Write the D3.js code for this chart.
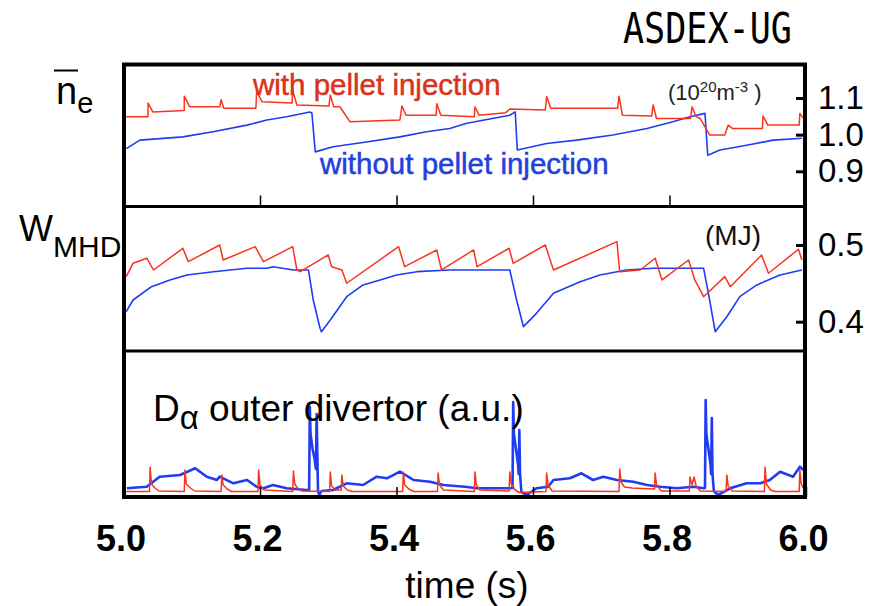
<!DOCTYPE html>
<html lang="en">
    <head>
        <meta charset="utf-8">
        <title>ASDEX-UG pellet injection</title>
        <script type="text/javascript" src="https://cdn.jsdelivr.net/npm/d3@7"></script>
        <style>
            body { margin: 0; background: #fff; }
            svg { display: block; font-family: "Liberation Sans", Arial, sans-serif; }
        </style>
    </head>
    <body>
        <script type="text/javascript">
            // tick values
            var xTicks = [5.0, 5.2, 5.4, 5.6, 5.8, 6.0];
            var neTicks = [0.9, 1.0, 1.1];
            var wTicks = [0.4, 0.5];

            // line averaged density (10^20 m^-3), [time, value]
            var neWith = [
                [5.004,1.049],[5.036,1.049],[5.036,1.086],[5.043,1.062],[5.089,1.066],[5.089,1.105],[5.097,1.076],
                [5.141,1.076],[5.143,1.095],[5.147,1.072],[5.194,1.072],[5.195,1.117],[5.203,1.090],[5.247,1.086],
                [5.248,1.120],[5.254,1.081],[5.301,1.078],[5.303,1.108],[5.308,1.076],[5.317,1.076],[5.332,1.035],
                [5.405,1.040],[5.408,1.078],[5.414,1.053],[5.458,1.053],[5.459,1.084],[5.465,1.053],[5.514,1.049],
                [5.515,1.076],[5.521,1.053],[5.560,1.060],[5.566,1.070],[5.618,1.067],[5.620,1.104],[5.626,1.072],
                [5.724,1.072],[5.726,1.105],[5.731,1.053],[5.774,1.051],[5.776,1.081],[5.781,1.044],[5.831,1.044],
                [5.833,1.076],[5.839,1.049],[5.845,1.044],[5.859,0.999],[5.881,0.999],[5.886,1.026],[5.892,1.017],
                [5.936,1.017],[5.937,1.051],[5.944,1.026],[5.990,1.026],[5.991,1.058],[5.996,1.045]
            ];
            var neWithout = [
                [5.004,0.962],[5.024,0.985],[5.087,0.994],[5.131,1.008],[5.181,1.026],[5.210,1.040],[5.239,1.049],
                [5.273,1.062],[5.276,1.059],[5.281,0.953],[5.307,0.967],[5.356,0.980],[5.405,0.994],[5.444,1.008],
                [5.478,1.017],[5.503,1.031],[5.566,1.053],[5.574,1.062],[5.577,0.958],[5.620,0.976],[5.664,0.985],
                [5.717,0.999],[5.767,1.017],[5.805,1.035],[5.830,1.049],[5.852,1.058],[5.856,0.944],[5.874,0.958],
                [5.913,0.971],[5.952,0.985],[5.994,0.990]
            ];

            // stored energy (MJ)
            var wWith = [
                [5.004,0.4587],[5.014,0.4761],[5.034,0.4827],[5.044,0.4674],[5.087,0.4957],[5.095,0.4782],
                [5.141,0.5000],[5.146,0.4804],[5.193,0.4978],[5.205,0.4782],[5.248,0.4978],[5.254,0.4674],
                [5.259,0.4652],[5.300,0.4870],[5.305,0.4717],[5.320,0.4674],[5.327,0.4501],[5.403,0.4978],
                [5.412,0.4717],[5.459,0.4935],[5.466,0.4674],[5.513,0.4935],[5.518,0.4717],[5.565,0.4957],
                [5.571,0.4761],[5.618,0.5000],[5.630,0.4674],[5.723,0.5043],[5.727,0.4652],[5.757,0.4674],
                [5.779,0.4827],[5.789,0.4544],[5.828,0.4804],[5.837,0.4544],[5.850,0.4326],[5.881,0.4587],
                [5.889,0.4456],[5.935,0.4870],[5.945,0.4631],[5.989,0.4944],[5.994,0.4804]
            ];
            var wWithout = [
                [5.004,0.4130],[5.014,0.4283],[5.041,0.4456],[5.068,0.4544],[5.093,0.4609],[5.132,0.4652],
                [5.181,0.4696],[5.210,0.4696],[5.219,0.4717],[5.249,0.4674],[5.271,0.4674],[5.278,0.4283],
                [5.288,0.3914],[5.290,0.3870],[5.303,0.4022],[5.327,0.4326],[5.351,0.4479],[5.376,0.4544],
                [5.400,0.4609],[5.430,0.4652],[5.478,0.4674],[5.566,0.4674],[5.576,0.4283],[5.586,0.3935],
                [5.605,0.4109],[5.630,0.4370],[5.669,0.4522],[5.698,0.4609],[5.737,0.4674],[5.776,0.4696],
                [5.850,0.4696],[5.857,0.4370],[5.867,0.3870],[5.884,0.4065],[5.903,0.4326],[5.928,0.4479],
                [5.962,0.4609],[5.994,0.4674]
            ];

            // D-alpha outer divertor (a.u.)
            var daWith = [
                [5.004,0.25],[5.038,0.25],[5.039,2.7],[5.041,1.0],[5.046,0.6],[5.052,0.3],
                [5.089,0.25],[5.090,2.4],[5.092,1.0],[5.098,0.6],[5.104,0.3],
                [5.143,0.25],[5.144,1.9],[5.146,0.9],[5.152,0.5],[5.158,0.25],
                [5.197,0.25],[5.198,2.4],[5.200,0.9],[5.206,0.4],
                [5.248,0.25],[5.249,2.3],[5.251,1.0],[5.256,0.5],[5.262,0.3],
                [5.302,0.25],[5.303,2.2],[5.305,0.8],[5.310,0.4],
                [5.319,0.4],[5.320,1.9],[5.322,0.8],[5.328,0.4],[5.335,0.25],
                [5.409,0.25],[5.410,2.2],[5.412,0.9],[5.418,0.5],[5.425,0.25],
                [5.460,0.25],[5.461,2.1],[5.463,0.9],[5.469,0.4],
                [5.514,0.25],[5.515,2.2],[5.517,0.9],[5.522,0.4],
                [5.565,0.3],[5.566,2.2],[5.568,1.0],[5.574,0.4],[5.580,0.15],
                [5.619,0.25],[5.620,2.1],[5.622,0.9],[5.628,0.3],
                [5.726,0.25],[5.727,2.5],[5.729,1.2],[5.734,0.7],[5.745,0.6],[5.760,0.55],[5.778,0.5],
                [5.779,2.1],[5.781,0.9],[5.788,0.3],
                [5.829,0.3],[5.830,1.7],[5.833,0.9],[5.836,1.7],[5.839,0.8],[5.845,0.3],
                [5.883,0.25],[5.884,1.9],[5.886,0.8],[5.892,0.3],
                [5.939,0.25],[5.940,2.7],[5.942,1.0],[5.948,0.4],[5.955,0.25],
                [5.990,0.25],[5.991,2.4],[5.993,1.0],[5.996,0.6]
            ];
            var daWithout = [
                [5.005,0.57],[5.034,0.73],[5.053,1.73],[5.083,1.9],[5.105,2.57],[5.122,1.73],[5.137,1.4],
                [5.141,1.73],[5.161,1.07],[5.181,1.4],[5.195,0.73],[5.205,0.57],[5.219,0.9],[5.239,0.57],
                [5.268,0.4],[5.272,0.4],[5.273,8.7],[5.274,6.0],[5.277,4.5],[5.280,3.5],[5.282,2.5],[5.283,8.0],
                [5.284,4.0],[5.285,0.3],[5.287,-0.1],[5.290,0.3],[5.307,0.4],[5.327,1.07],[5.351,0.9],
                [5.371,1.73],[5.386,1.57],[5.405,2.23],[5.425,1.4],[5.449,1.23],[5.469,0.9],[5.500,0.73],
                [5.518,0.57],[5.566,0.57],[5.570,0.6],[5.571,9.2],[5.572,6.0],[5.575,4.5],[5.578,3.0],
                [5.579,2.0],[5.580,6.4],[5.581,2.0],[5.583,0.2],[5.591,-0.1],[5.605,0.57],[5.622,0.73],
                [5.630,1.4],[5.654,1.57],[5.671,2.07],[5.688,1.4],[5.703,1.73],[5.723,1.4],[5.747,1.23],
                [5.767,0.9],[5.786,0.73],[5.811,0.57],[5.835,0.73],[5.850,0.57],[5.852,0.6],[5.853,9.4],
                [5.854,6.0],[5.857,4.5],[5.860,3.0],[5.861,2.0],[5.862,7.6],[5.863,2.0],[5.865,0.3],
                [5.871,-0.1],[5.889,0.57],[5.913,1.07],[5.933,1.07],[5.947,1.4],[5.962,2.23],[5.981,1.73],
                [5.991,2.73],[5.996,2.4]
            ];

            var w = 873;
            var h = 606;
            var redLine = "#f8341c";
            var blueLine = "#1f3cf2";

            // panel edges (pixels)
            var x0 = 124, x1 = 805;
            var yA = 64.5, yB = 206.5, yC = 351, yD = 497;

            var xScale = d3.scaleLinear().domain([5.0, 6.0]).range([123.5, 806]);
            var yTop = d3.scaleLinear().domain([0.804, 1.190]).range([yB, 65]);
            var yMid = d3.scaleLinear().domain([0.3618, 0.5495]).range([yC, 207]);
            var yBot = d3.scaleLinear().domain([-0.4, 14.3]).range([498, yC]);

            var svg = d3.select("body")
                        .append("svg")
                        .attr("width", w)
                        .attr("height", h);

            // clip each panel so the traces stay inside
            var defs = svg.append("defs");
            [["clipTop", yA, yB], ["clipMid", yB, yC], ["clipBot", yC, yD]].forEach(function(c){
                defs.append("clipPath").attr("id", c[0])
                    .append("rect")
                    .attr("x", x0).attr("y", c[1])
                    .attr("width", x1 - x0).attr("height", c[2] - c[1]);
            });

            function drawTrace(data, yScale, clip, color, width){
                var line = d3.line()
                    .x(function(d){ return xScale(d[0]); })
                    .y(function(d){ return yScale(d[1]); });
                svg.append("path")
                    .datum(data)
                    .attr("clip-path", "url(#" + clip + ")")
                    .attr("d", line)
                    .attr("fill", "none")
                    .attr("stroke", color)
                    .attr("stroke-width", width)
                    .attr("stroke-linejoin", "round");
            }

            drawTrace(neWithout, yTop, "clipTop", blueLine, 1.6);
            drawTrace(neWith, yTop, "clipTop", redLine, 1.5);
            drawTrace(wWithout, yMid, "clipMid", blueLine, 1.6);
            drawTrace(wWith, yMid, "clipMid", redLine, 1.5);
            drawTrace(daWithout, yBot, "clipBot", blueLine, 2.6);
            drawTrace(daWith, yBot, "clipBot", redLine, 1.5);

            // x ticks on top panel (no labels)
            var gxTop = svg.append("g")
                .attr("transform", "translate(0," + yB + ")")
                .call(d3.axisBottom(xScale).tickValues([5.2, 5.4, 5.6, 5.8]).tickSize(-11).tickFormat(""));
            gxTop.select(".domain").remove();
            gxTop.selectAll("line").attr("stroke-width", 1.5);

            // x axis at the bottom
            var gx = svg.append("g")
                .attr("transform", "translate(0," + yD + ")")
                .call(d3.axisBottom(xScale).tickValues(xTicks).tickSize(-10).tickPadding(28)
                        .tickFormat(d3.format(".1f")));
            gx.select(".domain").remove();
            gx.selectAll("line").attr("stroke-width", 1.5);
            gx.selectAll("text")
                .attr("font-family", "Liberation Sans, Arial, sans-serif")
                .attr("font-size", "36px")
                .attr("font-weight", "bold")
                .attr("fill", "#000")
                .attr("dx", "-3");

            // right y axes
            function rightAxis(scale, ticks){
                var g = svg.append("g")
                    .attr("transform", "translate(" + x1 + ",0)")
                    .call(d3.axisRight(scale).tickValues(ticks).tickSize(-9).tickPadding(13)
                            .tickFormat(d3.format(".1f")));
                g.select(".domain").remove();
                g.selectAll("line").attr("stroke-width", 3);
                g.selectAll("text")
                    .attr("font-family", "Liberation Sans, Arial, sans-serif")
                    .attr("font-size", "33px")
                    .attr("fill", "#000");
            }
            rightAxis(yTop, neTicks);
            rightAxis(yMid, wTicks);

            // frame
            svg.append("rect")
                .attr("x", x0).attr("y", yA)
                .attr("width", x1 - x0).attr("height", yD - yA)
                .attr("fill", "none").attr("stroke", "#000").attr("stroke-width", 4);
            [yB, yC].forEach(function(y){
                svg.append("line")
                    .attr("x1", x0).attr("x2", x1).attr("y1", y).attr("y2", y)
                    .attr("stroke", "#000").attr("stroke-width", 3);
            });

            // title
            svg.append("text")
                .attr("x", 623).attr("y", 43)
                .attr("font-family", "DejaVu Sans Mono, monospace")
                .attr("font-size", "42px")
                .attr("textLength", 169)
                .attr("lengthAdjust", "spacingAndGlyphs")
                .text("ASDEX-UG");

            // left labels
            svg.append("line")
                .attr("x1", 54).attr("x2", 78).attr("y1", 70.5).attr("y2", 70.5)
                .attr("stroke", "#000").attr("stroke-width", 2);
            var ne = svg.append("text").attr("x", 56).attr("y", 104).attr("font-size", "38px");
            ne.append("tspan").text("n");
            ne.append("tspan").attr("dy", 9).attr("font-size", "29px").text("e");

            var wm = svg.append("text").attr("x", 19).attr("y", 241).attr("font-size", "36px");
            wm.append("tspan").text("W");
            wm.append("tspan").attr("dy", 16).attr("font-size", "30px").text("MHD");

            var da = svg.append("text").attr("x", 153).attr("y", 421).attr("font-size", "37px");
            da.append("tspan").text("D");
            da.append("tspan").attr("dy", 8).attr("font-size", "33px").text("α");
            da.append("tspan").attr("dy", -8).text(" outer divertor (a.u.)");

            // units
            var un = svg.append("text").attr("x", 668).attr("y", 100).attr("font-size", "22px").attr("fill", "#222");
            un.append("tspan").text("(10");
            un.append("tspan").attr("dy", -8).attr("font-size", "15px").text("20");
            un.append("tspan").attr("dy", 8).text("m");
            un.append("tspan").attr("dy", -8).attr("font-size", "15px").text("-3");
            un.append("tspan").attr("dy", 8).text(" )");

            svg.append("text").attr("x", 705).attr("y", 245)
                .attr("font-size", "28px").attr("fill", "#111").text("(MJ)");

            // series labels
            svg.append("text").attr("x", 253).attr("y", 95)
                .attr("font-size", "29.5px").attr("fill", "#d8331c")
                .attr("stroke", "#d8331c").attr("stroke-width", 0.5)
                .text("with pellet injection");
            svg.append("text").attr("x", 320).attr("y", 174)
                .attr("font-size", "29.5px").attr("fill", "#2141dc")
                .attr("stroke", "#2141dc").attr("stroke-width", 0.5)
                .text("without pellet injection");

            // x axis title
            svg.append("text").attr("x", 467).attr("y", 598)
                .attr("text-anchor", "middle")
                .attr("font-size", "37px")
                .text("time (s)");
        </script>
    </body>
</html>
